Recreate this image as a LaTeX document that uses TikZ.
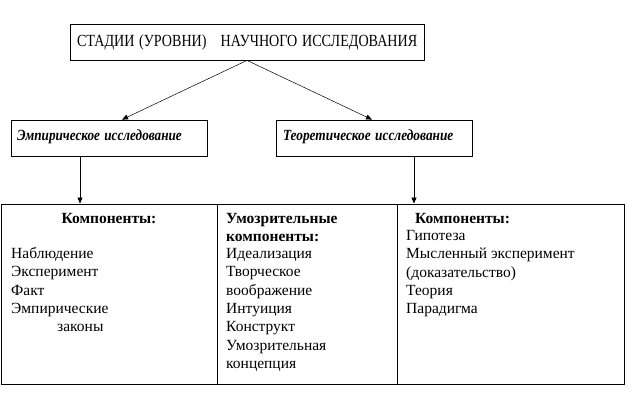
\documentclass[tikz,border=0pt]{standalone}
\usepackage{fontspec}
\setmainfont{Liberation Serif}
\usetikzlibrary{arrows.meta}
\begin{document}
\begin{tikzpicture}[x=1pt,y=-1pt]
\tikzstyle{stage}=[draw,rectangle,line width=0.8pt,minimum height=36pt,inner ysep=0pt,align=left]
\tikzstyle{cell}=[draw,rectangle,line width=0.9pt,minimum height=180pt,inner sep=0pt]
\tikzstyle{item}=[anchor=west,inner sep=0pt,text height=11pt,text depth=4pt,font=\fontsize{15.5}{18}\selectfont]
\tikzstyle{head}=[item,font=\fontsize{15.5}{18}\selectfont\bfseries]
\tikzstyle{link}=[-{Triangle[length=6pt,width=5pt]},line width=0.5pt]
\useasboundingbox (0,0) rectangle (638,409);

% Top: the two stages
\node[stage,minimum width=354pt,text width=340pt,font=\fontsize{17}{18}\selectfont] (title) at (247,42)
  {\raisebox{3pt}{\scalebox{0.83}[1]{СТАДИИ (УРОВНИ) \ \ НАУЧНОГО ИССЛЕДОВАНИЯ}}};
\node[stage,minimum width=196pt,text width=184pt,font=\fontsize{15.5}{18}\selectfont\bfseries\itshape] (emp) at (109,138)
  {\raisebox{5pt}{\scalebox{0.85}[1]{Эмпирическое исследование}}};
\node[stage,minimum width=196pt,text width=182pt,font=\fontsize{15.5}{18}\selectfont\bfseries\itshape] (teor) at (374,138)
  {\raisebox{5pt}{\scalebox{0.86}[1]{Теоретическое исследование}}};
\draw[link] (title.south) -- ([xshift=13pt]emp.north);
\draw[link] (title.south) -- ([xshift=-2pt]teor.north);

% Bottom: the table of components
\node[cell,minimum width=216pt] (col1) at (109,294) {};
\node[cell,minimum width=180pt] (col2) at (307,294) {};
\node[cell,minimum width=227pt] (col3) at (510.5,294) {};
\draw[link,line width=0.8pt] ([xshift=-29pt]emp.south) -- ([xshift=-29pt]emp.south |- col1.north);
\draw[link,line width=0.8pt] ([xshift=40pt]teor.south) -- ([xshift=40pt]teor.south |- col3.north);

% empirical column
\node[head,anchor=center] (h1) at (109,220) {Компоненты:};
\foreach \i/\txt in {0/Наблюдение,1/Эксперимент,2/Факт,3/Эмпирические}
  \node[item] (e\i) at (11,255+\i*18.3) {\txt};
\node[item] (e4) at (57,328.2) {законы};

% speculative column
\node[head] (h2a) at (226,220) {Умозрительные};
\node[head] (h2b) at (226,238) {компоненты:};
\foreach \i/\txt in {0/Идеализация,1/Творческое,2/воображение,3/Интуиция,4/Конструкт,5/Умозрительная,6/концепция}
  \node[item] (m\i) at (226,255+\i*18.3) {\txt};

% theoretical column
\node[head] (h3) at (415,220) {Компоненты:};
\foreach \i/\txt in {0/Гипотеза,1/Мысленный эксперимент,2/(доказательство),3/Теория,4/Парадигма}
  \node[item] (t\i) at (406,237+\i*18.3) {\txt};
\end{tikzpicture}
\end{document}
